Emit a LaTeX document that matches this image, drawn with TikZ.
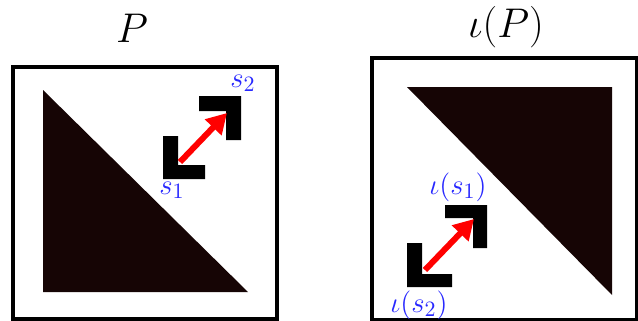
\documentclass[tikz,border=0pt]{standalone}
\usepackage{amsmath,amssymb}
\usetikzlibrary{arrows.meta}

\definecolor{shade}{RGB}{22,5,5}
\definecolor{labelblue}{RGB}{40,40,255}

\begin{document}
\begin{tikzpicture}[x=0.5pt, y=-0.5pt, >={Triangle[length=10pt,width=11pt]}]
    \useasboundingbox (0,0) rectangle (638,321);
    \tikzset{
        frame/.style={draw=black, line width=2pt},
        halfsq/.style={fill=shade},
        corner/.style={fill=black},
        move/.style={->, red, line width=3pt, shorten <=0pt},
        tag/.style={text=labelblue, font=\fontsize{15.5}{17}\selectfont, inner sep=0pt},
        title/.style={font=\fontsize{20}{22}\selectfont, inner sep=0pt}
    }

    % Left panel P
    \node[title] (tP) at (132,28) {$P$};
    \draw[frame] (13,67) rectangle (277,319);
    \fill[halfsq] (43,90) -- (43,292) -- (248,292) -- cycle;

    % Corner s1 (opens to the upper right)
    \fill[corner] (163,136) -- (163,179) -- (205,179) -- (205,165) -- (178,165) -- (178,136) -- cycle;
    % Corner s2 (opens to the lower left)
    \fill[corner] (241,96) -- (199,96) -- (199,111) -- (226,111) -- (226,140) -- (241,140) -- cycle;
    \coordinate (a1) at (180,162);
    \coordinate (a2) at (227,113);
    \draw[move] (a1) -- (a2);
    \node[tag] (s1) at (172,190) {$s_1$};
    \node[tag] (s2) at (243,83) {$s_2$};

    % Right panel iota(P)
    \node[title] (tiP) at (506,27) {$\iota(P)$};
    \draw[frame] (372,58) rectangle (637,320);
    \fill[halfsq] (407,87) -- (612,87) -- (612,295) -- cycle;

    % Corner iota(s1)
    \fill[corner] (487,205) -- (445,205) -- (445,218) -- (473,218) -- (473,248) -- (487,248) -- cycle;
    % Corner iota(s2)
    \fill[corner] (407,243) -- (407,287) -- (452,287) -- (452,274) -- (422,274) -- (422,243) -- cycle;
    \coordinate (b2) at (425,270);
    \coordinate (b1) at (474,219);
    \draw[move] (b2) -- (b1);
    \node[tag] (is1) at (458,187) {$\iota(s_1)$};
    \node[tag] (is2) at (419,305) {$\iota(s_2)$};
\end{tikzpicture}
\end{document}
